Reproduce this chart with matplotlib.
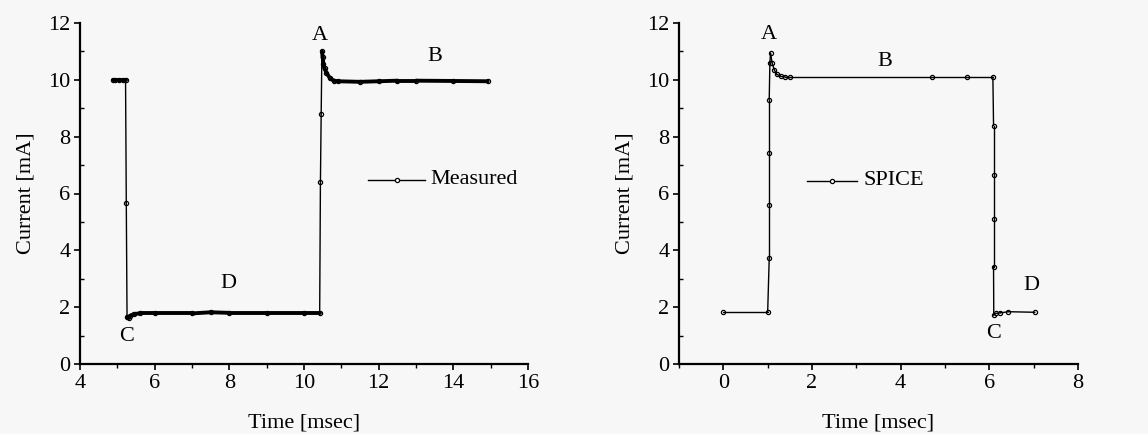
import numpy as np
import matplotlib
matplotlib.use("Agg")
import matplotlib.pyplot as plt
from matplotlib.collections import LineCollection
from matplotlib.ticker import MultipleLocator

# ---- data ----
meas_t = [4.88, 4.95, 5.05, 5.15, 5.22, 5.24, 5.26, 5.30, 5.35, 5.45, 5.60, 6.00,
          7.00, 7.50, 8.00, 9.00, 10.00, 10.42, 10.44, 10.46, 10.48, 10.50, 10.52,
          10.55, 10.60, 10.70, 10.80, 10.90, 11.50, 12.00, 12.50, 13.00, 14.00, 14.92]
meas_i = [10.0, 10.0, 10.0, 10.0, 10.0, 5.65, 1.65, 1.62, 1.70, 1.76, 1.78, 1.78,
          1.78, 1.82, 1.80, 1.80, 1.80, 1.80, 6.40, 8.80, 11.0, 10.8, 10.55,
          10.4, 10.25, 10.05, 9.97, 9.95, 9.93, 9.95, 9.97, 9.97, 9.96, 9.95]

spice_t = [0.0, 1.0, 1.035, 1.035, 1.035, 1.035, 1.05, 1.065, 1.10, 1.15, 1.20, 1.30,
           1.40, 1.50, 4.70, 5.50, 6.08, 6.095, 6.095, 6.095, 6.095, 6.10, 6.15,
           6.25, 6.43, 7.03]
spice_i = [1.82, 1.82, 3.72, 5.60, 7.44, 9.30, 10.6, 10.94, 10.6, 10.35, 10.2, 10.12,
           10.1, 10.1, 10.1, 10.1, 10.1, 8.39, 6.65, 5.10, 3.43, 1.72, 1.78,
           1.80, 1.84, 1.82]

meas_labels = [("A", 10.43, 11.55), ("B", 13.5, 10.82), ("C", 5.25, 0.96), ("D", 7.97, 2.82)]
spice_labels = [("A", 1.03, 11.6), ("B", 3.65, 10.64), ("C", 6.09, 1.08), ("D", 6.94, 2.75)]

x_label = "Time [msec]"
y_label = "Current [mA]"

# ---- style ----
plt.rcParams['font.family'] = ['Liberation Serif', 'DejaVu Serif']
FS = 16
bg = '#f7f7f7'
fig = plt.figure(figsize=(11.48, 4.34), dpi=100, facecolor=bg)

W, H = 1148, 434
def axes_px(l, r, t, b):
    return fig.add_axes([l / W, (H - b) / H, (r - l) / W, (b - t) / H])

ax1 = axes_px(80, 528, 23, 364)
ax2 = axes_px(679, 1078, 23, 364)


def draw_series(ax, t, i, thick_flat):
    t = np.asarray(t); i = np.asarray(i)
    ax.plot(t, i, linestyle='none', marker='o', ms=3, mfc='white', mec='black',
            mew=0.9, zorder=2)
    pts = np.column_stack([t, i])
    segs = np.stack([pts[:-1], pts[1:]], axis=1)
    dy = np.abs(np.diff(i))
    widths = np.where(dy < 0.5, thick_flat, 1.0)
    ax.add_collection(LineCollection(segs, colors='black', linewidths=widths,
                                     capstyle='round', zorder=3))


draw_series(ax1, meas_t, meas_i, 2.8)
draw_series(ax2, spice_t, spice_i, 1.0)

for ax, (xmin, xmax), labels in [(ax1, (4, 16), meas_labels), (ax2, (-1, 8), spice_labels)]:
    ax.set_facecolor(bg)
    ax.set_xlim(xmin, xmax)
    ax.set_ylim(0, 12)
    for s in ('top', 'right'):
        ax.spines[s].set_visible(False)
    for s in ('left', 'bottom'):
        ax.spines[s].set_linewidth(1.6)
    ax.xaxis.set_major_locator(MultipleLocator(2))
    ax.xaxis.set_minor_locator(MultipleLocator(1))
    ax.yaxis.set_major_locator(MultipleLocator(2))
    ax.yaxis.set_minor_locator(MultipleLocator(1))
    ax.tick_params(axis='both', which='major', direction='out', length=4, width=1.2,
                   labelsize=FS, pad=3)
    ax.tick_params(axis='both', which='minor', direction='out', length=3, width=1.0)
    ax.tick_params(axis='y', which='minor', direction='in')
    ax.set_xlabel(x_label, fontsize=FS, labelpad=15)
    ax.set_ylabel(y_label, fontsize=FS, labelpad=9)
    for txt, x, y in labels:
        ax.text(x, y, txt, fontsize=FS, ha='center', va='center')

# legends drawn by hand as line + marker + text
ax1.plot([11.72, 13.24], [6.48, 6.48], color='black', lw=1.0)
ax1.plot([12.48], [6.48], marker='o', ms=3, mfc='white', mec='black', mew=0.9)
ax1.text(13.38, 6.48, "Measured", fontsize=FS, va='center', ha='left')

ax2.plot([1.89, 3.02], [6.44, 6.44], color='black', lw=1.0)
ax2.plot([2.45], [6.44], marker='o', ms=3, mfc='white', mec='black', mew=0.9)
ax2.text(3.17, 6.44, "SPICE", fontsize=FS, va='center', ha='left')

fig.savefig("out.png", dpi=100, facecolor=bg)
